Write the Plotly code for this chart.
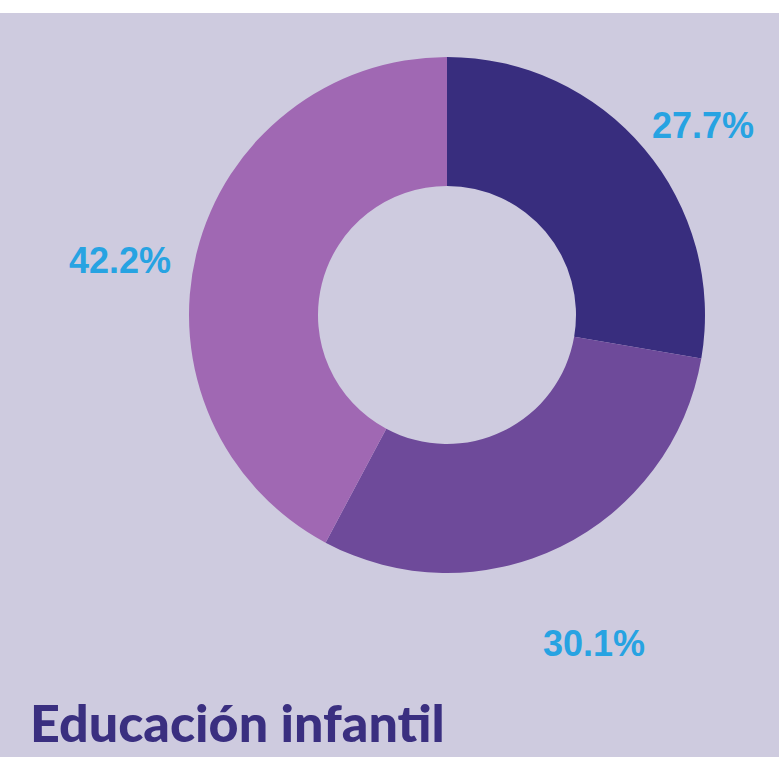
import plotly.graph_objects as go

W, H = 779, 757

labels = ["A", "B", "C"]
values = [27.7, 30.1, 42.2]
slice_colors = ["#382D7E", "#6E4A9A", "#A068B3"]
title = "Educación infantil"

bg = "#CECBDF"
pct_color = "#27A3E2"

# label centres, in pixels
label_pos = [(703, 125), (594, 643), (120, 260)]


def px(x, y):
    return x / W, 1 - y / H


fig = go.Figure()

fig.add_trace(go.Pie(
    labels=labels,
    values=values,
    hole=0.5,
    sort=False,
    direction="clockwise",
    rotation=0,
    marker=dict(colors=slice_colors, line=dict(width=0)),
    textinfo="none",
    hoverinfo="label+percent",
    showlegend=False,
    domain=dict(x=[189 / W, 705 / W], y=[1 - 573 / H, 1 - 57 / H]),
))

for v, (lx, ly) in zip(values, label_pos):
    ax, ay = px(lx, ly)
    fig.add_annotation(
        x=ax, y=ay, xref="paper", yref="paper",
        text=f"{v:.1f}%", showarrow=False,
        xanchor="center", yanchor="middle",
        font=dict(family="Liberation Sans", size=36, color=pct_color, weight="bold"),
    )

tx, ty = px(28, 722)
fig.add_annotation(
    x=tx, y=ty, xref="paper", yref="paper",
    text=title, showarrow=False,
    xanchor="left", yanchor="middle",
    font=dict(family="Lato Black, Lato", size=52, color="#3A2F80", weight=900),
)

# white strip across the top
fig.add_shape(
    type="rect", xref="paper", yref="paper",
    x0=0, x1=1, y0=1 - 13 / H, y1=1,
    fillcolor="white", line=dict(width=0), layer="below",
)

fig.update_layout(
    width=W, height=H,
    margin=dict(l=0, r=0, t=0, b=0),
    paper_bgcolor=bg,
    plot_bgcolor=bg,
)

fig.write_html(
    "out.html",
    config={"displayModeBar": False},
    post_script="document.body.style.margin='0';",
)
